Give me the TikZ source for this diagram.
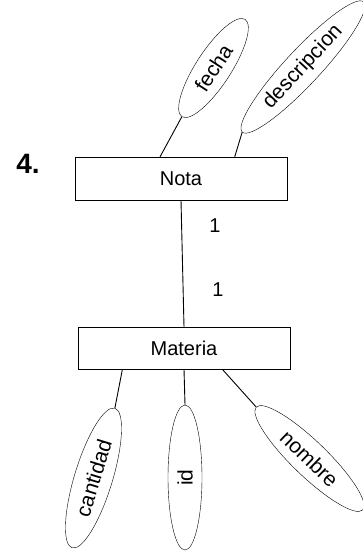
\documentclass[tikz,border=0pt]{standalone}
\usepackage{fontspec}
\setmainfont{Liberation Sans}
\usetikzlibrary{shapes.geometric}
\begin{document}
\begin{tikzpicture}[x=1pt, y=-1pt, font=\fontsize{20}{24}\selectfont]

\tikzstyle{entity}=[draw, minimum width=212pt, minimum height=43pt, inner sep=0pt]
\tikzstyle{attr}=[draw, ellipse, minimum height=35pt, inner sep=0pt, font=\fontsize{21}{24}\selectfont]
\tikzstyle{link}=[line width=0.9pt]

\useasboundingbox (0,0) rectangle (363,552);

% Title number
\node[font=\fontsize{28}{30}\selectfont\bfseries] (num) at (28,164) {4.};

% Top: entity Nota and its attributes
\node[entity] (nota) at (181,178.5) {Nota};
\node[attr, rotate=57, minimum width=116pt] (fecha) at (213.5,68) {fecha};
\node[attr, rotate=47, minimum width=178pt] (desc) at (303,67) {descripcion};

\draw[link] (fecha.west) -- (nota.134);
\draw[link] (desc.west) -- (nota.22);

% Bottom: entity Materia and its attributes
\node[entity, minimum height=42pt] (materia) at (184,348) {Materia};
\node[attr, rotate=73, minimum width=146pt, minimum height=38pt] (cant) at (93.5,478) {cantidad};
\node[attr, rotate=90, minimum width=145pt, minimum height=34pt] (id) at (185,477.5) {id};
\node[attr, rotate=-44, minimum width=148pt] (nombre) at (309.5,458.5) {nombre};

\draw[link] (materia.199) -- (cant.east);
\draw[link] (materia.south) -- (id.east);
\draw[link] (materia.331) -- (nombre.west);

% Relationship with cardinalities
\draw[link] (nota.south) -- (materia.north);
\node (c1) at (215,226) {1};
\node (c2) at (218,290) {1};

\end{tikzpicture}
\end{document}
